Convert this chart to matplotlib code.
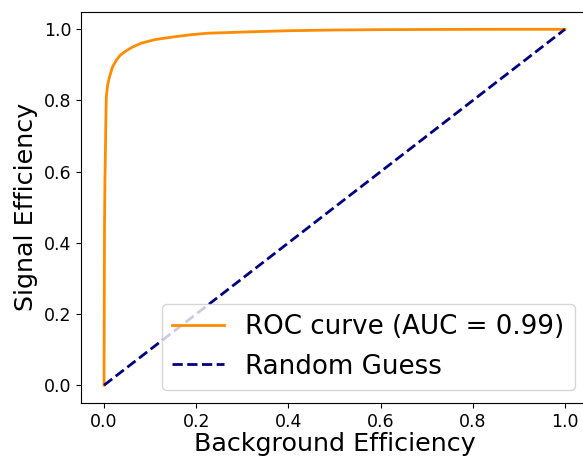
import matplotlib
matplotlib.use("Agg")
import matplotlib.pyplot as plt

# ROC curve points
fpr = [0.0, 0.0005, 0.001, 0.002, 0.003, 0.004, 0.005, 0.008, 0.012, 0.018,
       0.027, 0.035, 0.045, 0.060, 0.081, 0.11, 0.153, 0.19, 0.225, 0.319,
       0.40, 0.50, 0.60, 0.70, 0.85, 1.0]
tpr = [0.0, 0.25, 0.45, 0.58, 0.66, 0.75, 0.81, 0.845, 0.867, 0.893,
       0.914, 0.927, 0.937, 0.949, 0.961, 0.971, 0.979, 0.985, 0.989, 0.993,
       0.996, 0.998, 0.999, 0.9995, 1.0, 1.0]
auc_value = 0.99

diag_x = [0, 1]
diag_y = [0, 1]

W, H = 583, 458
fig = plt.figure(figsize=(W / 100, H / 100), dpi=100)
# axes box in pixels: left 81, right 588 (cropped by the figure edge), top 11.5, bottom 403
ax = fig.add_axes([81 / W, 1 - 403 / H, 507 / W, 391.5 / H])

ax.plot(fpr, tpr, color="darkorange", lw=2, label=f"ROC curve (AUC = {auc_value:.2f})")
ax.plot(diag_x, diag_y, color="navy", lw=2, linestyle="--", label="Random Guess")

ax.set_xlabel("Background Efficiency", fontsize=18.3, labelpad=1)
ax.set_ylabel("Signal Efficiency", fontsize=18.3)
ax.tick_params(labelsize=12.5)
ax.legend(loc="lower right", fontsize=18.8)

fig.savefig("out.png", dpi=100)
